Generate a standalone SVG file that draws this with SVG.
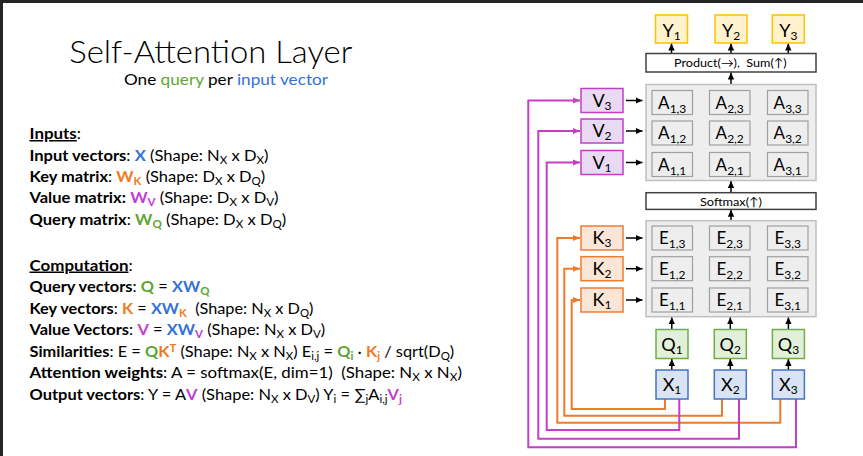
<svg xmlns="http://www.w3.org/2000/svg" width="863" height="456" viewBox="0 0 863 456">
<defs>
<style>
text{font-family:Lato,"Liberation Sans","DejaVu Sans",sans-serif;fill:#000}
.t{font-size:15px}
.b{font-weight:bold}
.u{text-decoration:underline}
.blue{fill:#3572d6}
.green{fill:#5ea531}
.orange{fill:#f07a22}
.purple{fill:#c23dd0}
.sub{font-size:70%;baseline-shift:-3px}
.sup{font-size:70%;baseline-shift:5px}
.lbl{font-size:18px;text-anchor:middle}
.cl{font-size:17px;text-anchor:middle}
.cs{font-size:12px;baseline-shift:-4px}
.ls{font-size:12px;baseline-shift:-3px}
.small{font-size:12px}
.y{fill:#fff2cc;stroke:#ffc000;stroke-width:1.5}
.q{fill:#e2f0d9;stroke:#70ad47;stroke-width:1.5}
.x{fill:#dae3f3;stroke:#4472c4;stroke-width:1.5}
.k{fill:#fbe5d6;stroke:#ed7d31;stroke-width:1.5}
.v{fill:#ead9f2;stroke:#c040c8;stroke-width:1.5}
.op{fill:#fff;stroke:#404040;stroke-width:1.5}
.panel{fill:#eeeeee;stroke:#c0c0c0;stroke-width:1.5}
.cell{fill:#eeeeee;stroke:#a0a0a0;stroke-width:1.2}
.ar{fill:none;stroke:#000;stroke-width:1.5;marker-end:url(#mb)}
.oc{fill:none;stroke:#ee7a2e;stroke-width:2;marker-end:url(#mo)}
.mc{fill:none;stroke:#c43ec8;stroke-width:2;marker-end:url(#mm)}
</style>
<marker id="mb" markerUnits="userSpaceOnUse" markerWidth="8" markerHeight="8" viewBox="0 0 8 8" refX="7" refY="4" orient="auto"><path d="M0,0.8 L7,4 L0,7.2 Z" fill="#000"/></marker>
<marker id="mo" markerUnits="userSpaceOnUse" markerWidth="8" markerHeight="8" viewBox="0 0 8 8" refX="7" refY="4" orient="auto"><path d="M0,1 L7,4 L0,7 Z" fill="#ee7a2e"/></marker>
<marker id="mm" markerUnits="userSpaceOnUse" markerWidth="8" markerHeight="8" viewBox="0 0 8 8" refX="7" refY="4" orient="auto"><path d="M0,1 L7,4 L0,7 Z" fill="#c43ec8"/></marker>
</defs>
<rect x="0" y="0" width="863" height="456" fill="#fff"/>
<rect x="0" y="0" width="863" height="3" fill="#252525"/>
<rect x="0" y="0" width="3" height="456" fill="#252525"/>

<g id="title">
<text x="69.3" y="62.7" font-size="32" font-weight="300" textLength="283" lengthAdjust="spacingAndGlyphs">Self-Attention Layer</text>
<text x="124" y="85" font-size="15" textLength="204" lengthAdjust="spacingAndGlyphs">One <tspan class="green">query</tspan> per <tspan class="blue">input vector</tspan></text>
</g>

<g id="inputs-text" class="t">
<text x="29.5" y="139" textLength="51.5" lengthAdjust="spacingAndGlyphs"><tspan class="b u">Inputs</tspan>:</text>
<text x="29.5" y="160.5" textLength="239" lengthAdjust="spacingAndGlyphs"><tspan class="b">Input vectors</tspan>: <tspan class="b blue">X</tspan> (Shape: N<tspan class="sub">X</tspan> x D<tspan class="sub">X</tspan>)</text>
<text x="29.5" y="182" textLength="235.7" lengthAdjust="spacingAndGlyphs"><tspan class="b">Key matrix</tspan>: <tspan class="b orange">W<tspan class="sub">K</tspan></tspan> (Shape: D<tspan class="sub">X</tspan> x D<tspan class="sub">Q</tspan>)</text>
<text x="29.5" y="203.3" textLength="249" lengthAdjust="spacingAndGlyphs"><tspan class="b">Value matrix:</tspan> <tspan class="b purple">W<tspan class="sub">V</tspan></tspan> (Shape: D<tspan class="sub">X</tspan> x D<tspan class="sub">V</tspan>)</text>
<text x="29.5" y="224.5" textLength="256.7" lengthAdjust="spacingAndGlyphs"><tspan class="b">Query matrix</tspan>: <tspan class="b green">W<tspan class="sub">Q</tspan></tspan> (Shape: D<tspan class="sub">X</tspan> x D<tspan class="sub">Q</tspan>)</text>
</g>

<g id="computation-text" class="t">
<text x="29.5" y="270.5" textLength="103.2" lengthAdjust="spacingAndGlyphs"><tspan class="b u">Computation</tspan>:</text>
<text x="29.5" y="292" textLength="180" lengthAdjust="spacingAndGlyphs"><tspan class="b">Query vectors</tspan>: <tspan class="b green">Q</tspan> = <tspan class="b blue">XW</tspan><tspan class="b green sub">Q</tspan></text>
<text x="29.5" y="313.5" textLength="284" lengthAdjust="spacingAndGlyphs" xml:space="preserve"><tspan class="b">Key vectors</tspan>: <tspan class="b orange">K</tspan> = <tspan class="b blue">XW</tspan><tspan class="b orange sub">K</tspan>  (Shape: N<tspan class="sub">X</tspan> x D<tspan class="sub">Q</tspan>)</text>
<text x="29.5" y="335" textLength="295.7" lengthAdjust="spacingAndGlyphs"><tspan class="b">Value Vectors</tspan>: <tspan class="b purple">V</tspan> = <tspan class="b blue">XW</tspan><tspan class="b purple sub">V</tspan> (Shape: N<tspan class="sub">X</tspan> x D<tspan class="sub">V</tspan>)</text>
<text x="29.5" y="356.5" textLength="424.7" lengthAdjust="spacingAndGlyphs"><tspan class="b">Similarities</tspan>: E = <tspan class="b green">Q</tspan><tspan class="b orange">K<tspan class="sup">T</tspan></tspan> (Shape: N<tspan class="sub">X</tspan> x N<tspan class="sub">X</tspan>) E<tspan class="sub">i,j</tspan> = <tspan class="b green">Q<tspan class="sub">i</tspan></tspan> · <tspan class="b orange">K<tspan class="sub">j</tspan></tspan> / sqrt(D<tspan class="sub">Q</tspan>)</text>
<text x="29.5" y="378" textLength="432.4" lengthAdjust="spacingAndGlyphs" xml:space="preserve"><tspan class="b">Attention weights</tspan>: A = softmax(E, dim=1)  (Shape: N<tspan class="sub">X</tspan> x N<tspan class="sub">X</tspan>)</text>
<text x="29.5" y="399.5" textLength="372.4" lengthAdjust="spacingAndGlyphs"><tspan class="b">Output vectors</tspan>: Y = A<tspan class="b purple">V</tspan> (Shape: N<tspan class="sub">X</tspan> x D<tspan class="sub">V</tspan>) Y<tspan class="sub">i</tspan> = ∑<tspan class="sub">j</tspan>A<tspan class="sub">i,j</tspan><tspan class="b purple">V<tspan class="sub">j</tspan></tspan></text>
</g>

<g id="connectors">
<path class="ar" d="M671.5,53.5 V43.5"/>
<path class="ar" d="M731,53.5 V43.5"/>
<path class="ar" d="M788.3,53.5 V43.5"/>
<path class="ar" d="M731,84.5 V72.5"/>
<path class="ar" d="M731,192.7 V181"/>
<path class="ar" d="M731,220.7 V209.8"/>
<path class="ar" d="M626,100.5 H642.5"/>
<path class="ar" d="M626,131 H642.5"/>
<path class="ar" d="M626,162.5 H642.5"/>
<path class="ar" d="M626,238 H642.5"/>
<path class="ar" d="M626,268.7 H642.5"/>
<path class="ar" d="M626,300 H642.5"/>
<path class="ar" d="M671.8,329.5 V317.2"/>
<path class="ar" d="M730.3,329.5 V317.2"/>
<path class="ar" d="M788.4,329.5 V317.2"/>
<path class="ar" d="M671.8,370 V359"/>
<path class="ar" d="M730.3,370 V359"/>
<path class="ar" d="M788.4,370 V359"/>
<path class="oc" d="M665,399 V409 H571.7 V300 H580"/>
<path class="oc" d="M722,399 V415.7 H564.3 V268.7 H580"/>
<path class="oc" d="M780.3,399 V422.7 H557.3 V238 H580"/>
<path class="mc" d="M679.3,399 V430 H546.7 V162.5 H580"/>
<path class="mc" d="M739,399 V438.7 H538.3 V131 H580"/>
<path class="mc" d="M796,399 V447.3 H528.3 V100.5 H580"/>
</g>

<g id="Y1"><rect class="y" x="655.5" y="15" width="32" height="28"/><text class="lbl" x="671.5" y="36.5">Y<tspan class="ls">1</tspan></text></g>
<g id="Y2"><rect class="y" x="715" y="15" width="32" height="28"/><text class="lbl" x="731" y="36.5">Y<tspan class="ls">2</tspan></text></g>
<g id="Y3"><rect class="y" x="772.3" y="15" width="32" height="28"/><text class="lbl" x="788.3" y="36.5">Y<tspan class="ls">3</tspan></text></g>

<g id="product"><rect class="op" x="646" y="53.5" width="170" height="18.5"/><text class="small" x="674" y="66.5" textLength="112.7" lengthAdjust="spacingAndGlyphs" xml:space="preserve">Product(→),  Sum(↑)</text></g>

<g id="A-matrix">
<rect class="panel" x="646" y="84.5" width="170" height="96"/>
<rect class="cell" x="652" y="90.5" width="40.5" height="24"/><text class="cl" x="672.2" y="108.5">A<tspan class="cs">1,3</tspan></text>
<rect class="cell" x="709.5" y="90.5" width="40.5" height="24"/><text class="cl" x="729.7" y="108.5">A<tspan class="cs">2,3</tspan></text>
<rect class="cell" x="767.5" y="90.5" width="40.5" height="24"/><text class="cl" x="787.7" y="108.5">A<tspan class="cs">3,3</tspan></text>
<rect class="cell" x="652" y="121" width="40.5" height="24"/><text class="cl" x="672.2" y="139">A<tspan class="cs">1,2</tspan></text>
<rect class="cell" x="709.5" y="121" width="40.5" height="24"/><text class="cl" x="729.7" y="139">A<tspan class="cs">2,2</tspan></text>
<rect class="cell" x="767.5" y="121" width="40.5" height="24"/><text class="cl" x="787.7" y="139">A<tspan class="cs">3,2</tspan></text>
<rect class="cell" x="652" y="152.5" width="40.5" height="24"/><text class="cl" x="672.2" y="170.5">A<tspan class="cs">1,1</tspan></text>
<rect class="cell" x="709.5" y="152.5" width="40.5" height="24"/><text class="cl" x="729.7" y="170.5">A<tspan class="cs">2,1</tspan></text>
<rect class="cell" x="767.5" y="152.5" width="40.5" height="24"/><text class="cl" x="787.7" y="170.5">A<tspan class="cs">3,1</tspan></text>
</g>

<g id="V3"><rect class="v" x="581" y="88.5" width="42" height="24"/><text class="lbl" x="602" y="106.5">V<tspan class="ls">3</tspan></text></g>
<g id="V2"><rect class="v" x="581" y="119" width="42" height="24"/><text class="lbl" x="602" y="137">V<tspan class="ls">2</tspan></text></g>
<g id="V1"><rect class="v" x="581" y="150.5" width="42" height="24"/><text class="lbl" x="602" y="168.5">V<tspan class="ls">1</tspan></text></g>

<g id="softmax"><rect class="op" x="646" y="192.7" width="170" height="16.7"/><text class="small" x="700" y="205.5" textLength="62" lengthAdjust="spacingAndGlyphs">Softmax(↑)</text></g>

<g id="E-matrix">
<rect class="panel" x="646" y="220.7" width="170" height="96"/>
<rect class="cell" x="652" y="226" width="40.5" height="24"/><text class="cl" x="672.2" y="244">E<tspan class="cs">1,3</tspan></text>
<rect class="cell" x="709.5" y="226" width="40.5" height="24"/><text class="cl" x="729.7" y="244">E<tspan class="cs">2,3</tspan></text>
<rect class="cell" x="767.5" y="226" width="40.5" height="24"/><text class="cl" x="787.7" y="244">E<tspan class="cs">3,3</tspan></text>
<rect class="cell" x="652" y="256.7" width="40.5" height="24"/><text class="cl" x="672.2" y="274.7">E<tspan class="cs">1,2</tspan></text>
<rect class="cell" x="709.5" y="256.7" width="40.5" height="24"/><text class="cl" x="729.7" y="274.7">E<tspan class="cs">2,2</tspan></text>
<rect class="cell" x="767.5" y="256.7" width="40.5" height="24"/><text class="cl" x="787.7" y="274.7">E<tspan class="cs">3,2</tspan></text>
<rect class="cell" x="652" y="288" width="40.5" height="24"/><text class="cl" x="672.2" y="306">E<tspan class="cs">1,1</tspan></text>
<rect class="cell" x="709.5" y="288" width="40.5" height="24"/><text class="cl" x="729.7" y="306">E<tspan class="cs">2,1</tspan></text>
<rect class="cell" x="767.5" y="288" width="40.5" height="24"/><text class="cl" x="787.7" y="306">E<tspan class="cs">3,1</tspan></text>
</g>

<g id="K3"><rect class="k" x="581" y="226" width="42" height="24"/><text class="lbl" x="602" y="244">K<tspan class="ls">3</tspan></text></g>
<g id="K2"><rect class="k" x="581" y="256.7" width="42" height="24"/><text class="lbl" x="602" y="274.7">K<tspan class="ls">2</tspan></text></g>
<g id="K1"><rect class="k" x="581" y="288" width="42" height="24"/><text class="lbl" x="602" y="306">K<tspan class="ls">1</tspan></text></g>

<g id="Q1"><rect class="q" x="656" y="329.5" width="32" height="29"/><text class="lbl" x="672" y="350.5">Q<tspan class="ls">1</tspan></text></g>
<g id="Q2"><rect class="q" x="714.3" y="329.5" width="32" height="29"/><text class="lbl" x="730.3" y="350.5">Q<tspan class="ls">2</tspan></text></g>
<g id="Q3"><rect class="q" x="772.4" y="329.5" width="32" height="29"/><text class="lbl" x="788.4" y="350.5">Q<tspan class="ls">3</tspan></text></g>

<g id="X1"><rect class="x" x="656" y="370" width="32" height="29"/><text class="lbl" x="672" y="391">X<tspan class="ls">1</tspan></text></g>
<g id="X2"><rect class="x" x="714.3" y="370" width="32" height="29"/><text class="lbl" x="730.3" y="391">X<tspan class="ls">2</tspan></text></g>
<g id="X3"><rect class="x" x="772.4" y="370" width="32" height="29"/><text class="lbl" x="788.4" y="391">X<tspan class="ls">3</tspan></text></g>
</svg>
